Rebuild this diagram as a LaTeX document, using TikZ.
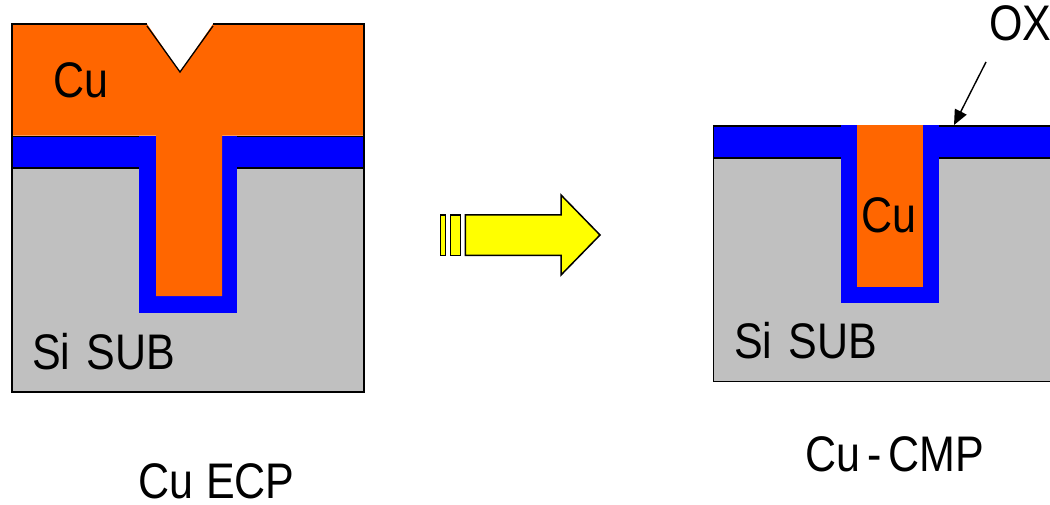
\documentclass[tikz,border=0pt]{standalone}
\usepackage{fontspec}
\setmainfont[FakeStretch=0.86]{Liberation Sans}
\usetikzlibrary{arrows.meta}
\definecolor{cuorange}{RGB}{255,102,0}
\definecolor{oxblue}{RGB}{0,0,255}
\definecolor{sigrey}{RGB}{192,192,192}
\definecolor{arrowyellow}{RGB}{255,255,0}
\tikzset{
  lbl/.style={anchor=base west,inner sep=0pt,font=\fontsize{50}{50}\selectfont,text=black},
  edge/.style={draw=black,line width=1.8pt},
  yarrow/.style={draw=black,fill=arrowyellow,line width=1.5pt,line join=miter},
}
\begin{document}
\begin{tikzpicture}[x=1pt,y=-1pt]
\useasboundingbox (0,0) rectangle (1050,505);
% left stack
\fill[sigrey] (12,168) rectangle (364,392);
\fill[oxblue] (12,136) rectangle (364,168);
\fill[oxblue] (139,135.6) rectangle (237,313);
\fill[cuorange] (12,24) -- (147,24) -- (180,72) -- (213,24) -- (364,24) -- (364,135.6) -- (222,135.6) -- (222,296) -- (156,296) -- (156,135.6) -- (12,135.6) -- cycle;
\draw[edge] (147,24) -- (12,24) -- (12,392) -- (364,392) -- (364,24) -- (213,24);
\draw[edge,line width=1.3pt] (147,26) -- (180,72) -- (213,26);
\draw[edge] (12,136.5) -- (139,136.5) (237,136.5) -- (364,136.5);
\draw[edge] (12,168) -- (139,168) (237,168) -- (364,168);
% right stack
\fill[sigrey] (713,158) rectangle (1050,381);
\fill[oxblue] (713,125) rectangle (1050,158);
\fill[oxblue] (841,125) rectangle (939,302.5);
\fill[cuorange] (857,125) rectangle (923,287);
\draw[edge] (713,125.9) -- (841,125.9) (939,125.9) -- (1050,125.9);
\draw[edge] (713,158) -- (841,158) (939,158) -- (1050,158);
\draw[edge] (713.5,125) -- (713.5,381.5) -- (1050,381.5);
% process arrow
\draw[yarrow] (440.7,215) rectangle (445.3,255.3);
\draw[yarrow] (450.7,215) rectangle (460.3,255.3);
\draw[yarrow] (465.4,215) -- (561,215) -- (561,195) -- (600,235) -- (561,275) -- (561,255.3) -- (465.4,255.3) -- cycle;
% labels
\node[lbl] (cuA) at (53,98) {Cu};
\node[lbl] (siA) at (32,369) {Si\hspace{16pt}SUB};
\node[lbl] (capA) at (138,498) {Cu\hspace{13pt}ECP};
\node[lbl] (cuB) at (861,233) {Cu};
\node[lbl] (siB) at (734,358) {Si\hspace{16pt}SUB};
\node[lbl] (capB) at (805,471) {Cu\hspace{7pt}-\hspace{7pt}CMP};
\node[lbl] (ox) at (989,41) {OX};
\coordinate (oxstart) at (986,62);
\coordinate (oxtip) at (954,125);
\draw[black,line width=1.4pt,-{Triangle[length=15pt,width=13pt]}] (oxstart) -- (oxtip);
\end{tikzpicture}
\end{document}
